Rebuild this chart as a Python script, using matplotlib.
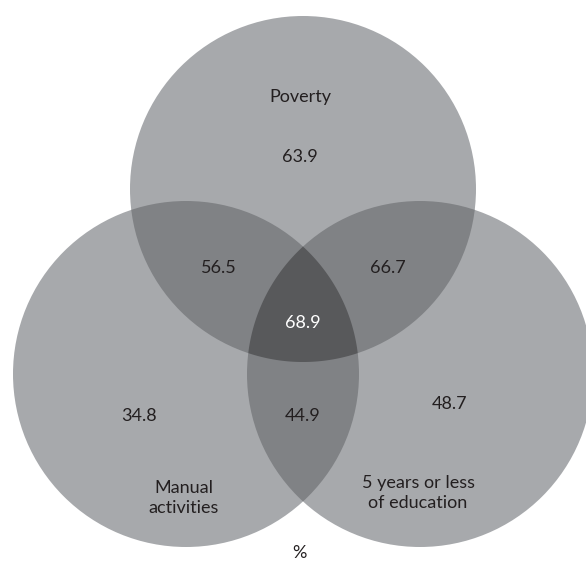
"""Three-set Venn diagram: poverty, manual activities, low education (%)."""

import matplotlib
matplotlib.use('Agg')
import matplotlib.pyplot as plt
import numpy as np
from matplotlib.patches import Circle, Polygon

# Set names and shares (%) per region
set_names = ['Poverty', 'Manual\nactivities', '5 years or less\nof education']
only_values = [63.9, 34.8, 48.7]      # poverty, manual, education alone
pair_values = [56.5, 66.7, 44.9]      # pov&manual, pov&edu, manual&edu
triple_value = 68.9
unit_label = '%'

# Layout (pixel space of the 586x561 canvas)
W, H = 586, 561
RADIUS = 173
centers = [(303, 189), (186, 374), (420, 374)]   # top, left, right
pairs = [(0, 1), (0, 2), (1, 2)]

name_pos = [(300, 97), (184, 498), (418, 493)]
only_pos = [(300, 157), (139, 416), (450, 404)]
pair_pos = [(219, 268), (388, 268), (303, 416)]
triple_pos = (303, 323)
unit_pos = (299, 553)

GRAY_1 = '#a7a9ac'
GRAY_2 = '#808285'
GRAY_3 = '#58595b'
TEXT = '#231f20'

plt.rcParams['font.family'] = ['Lato', 'DejaVu Sans']
FS = 13


def make_circle(c, color, z):
    return Circle(c, RADIUS, facecolor=color, edgecolor='none', zorder=z)


def triple_region(n=1440):
    """Outline of the area inside all three circles."""
    t = np.linspace(0, 2 * np.pi, n)
    pts = []
    for k, (kx, ky) in enumerate(centers):
        ring = np.column_stack([kx + RADIUS * np.cos(t), ky + RADIUS * np.sin(t)])
        ok = np.ones(n, dtype=bool)
        for m, (mx, my) in enumerate(centers):
            if m != k:
                ok &= (ring[:, 0] - mx) ** 2 + (ring[:, 1] - my) ** 2 <= RADIUS ** 2
        pts.append(ring[ok])
    pts = np.vstack(pts)
    gx, gy = pts.mean(axis=0)
    return pts[np.argsort(np.arctan2(pts[:, 1] - gy, pts[:, 0] - gx))]


fig = plt.figure(figsize=(W / 100, H / 100), dpi=100)
ax = fig.add_axes([0, 0, 1, 1])
ax.set_xlim(0, W)
ax.set_ylim(H, 0)
ax.axis('off')

# single sets
for c in centers:
    ax.add_patch(make_circle(c, GRAY_1, 1))

# pairwise overlaps: circle j clipped to circle i
for i, j in pairs:
    clip = ax.add_patch(make_circle(centers[i], 'none', 0))
    clip.set_visible(False)
    p = ax.add_patch(make_circle(centers[j], GRAY_2, 2))
    p.set_clip_path(clip)

# centre
ax.add_patch(Polygon(triple_region(), closed=True, facecolor=GRAY_3,
                     edgecolor='none', zorder=3))

# labels
for (x, y), name in zip(name_pos, set_names):
    ax.text(x, y, name, ha='center', va='center', fontsize=FS, color=TEXT,
            linespacing=1.35, zorder=5)
for (x, y), v in zip(only_pos + pair_pos, only_values + pair_values):
    ax.text(x, y, f'{v:.1f}', ha='center', va='center', fontsize=FS,
            color=TEXT, zorder=5)
ax.text(*triple_pos, f'{triple_value:.1f}', ha='center', va='center',
        fontsize=FS, color='white', zorder=5)
ax.text(*unit_pos, unit_label, ha='center', va='center', fontsize=FS,
        color=TEXT, zorder=5)

fig.savefig('out.png', dpi=100, facecolor='white')
